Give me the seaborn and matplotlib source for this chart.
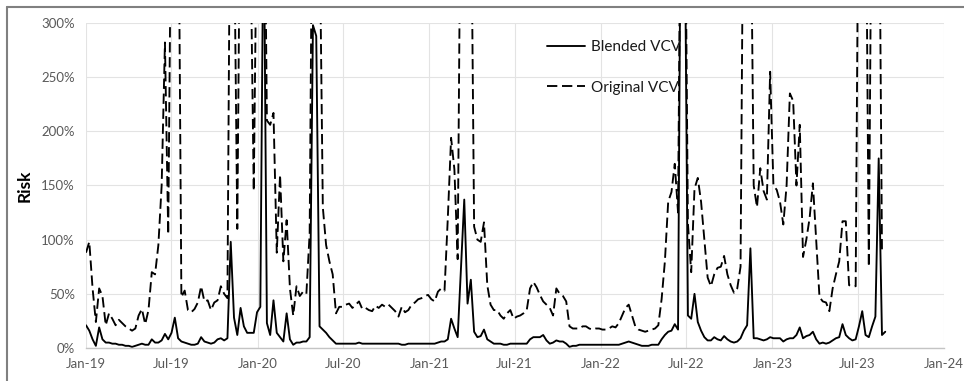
import pandas as pd
import matplotlib
matplotlib.use('Agg')
import matplotlib.pyplot as plt
import matplotlib.dates as mdates
from matplotlib.ticker import PercentFormatter, MultipleLocator
from matplotlib.lines import Line2D
import seaborn as sns

# ---------------- data (weekly, % risk) ----------------
start_date = '2019-01-01'
series_names = ['Blended VCV', 'Original VCV']
y_label = 'Risk'

blended = [
    21, 16, 8, 2, 19, 8, 5, 5, 4, 4,
    3, 3, 2, 2, 1, 2, 3, 4, 3, 3,
    8, 5, 5, 7, 13, 8, 14, 28, 9, 6,
    5, 4, 3, 3, 4, 10, 6, 5, 4, 5,
    8, 9, 7, 9, 98, 28, 12, 37, 20, 14,
    14, 14, 33, 38, 420, 23, 12, 44, 14, 10,
    6, 32, 8, 3, 5, 5, 6, 6, 10, 298,
    288, 20, 17, 14, 10, 7, 4, 4, 4, 4,
    4, 4, 4, 5, 4, 4, 4, 4, 4, 4,
    4, 4, 4, 4, 4, 4, 3, 3, 4, 4,
    4, 4, 4, 4, 4, 4, 4, 5, 6, 6,
    8, 27, 18, 10, 74, 137, 41, 63, 15, 10,
    11, 17, 8, 6, 4, 4, 4, 3, 3, 4,
    4, 4, 4, 4, 4, 8, 10, 10, 10, 12,
    7, 4, 5, 7, 6, 6, 4, 1, 2, 2,
    3, 3, 3, 3, 3, 3, 3, 3, 3, 3,
    3, 3, 3, 4, 5, 6, 5, 4, 3, 2,
    2, 2, 3, 3, 3, 8, 12, 15, 16, 22,
    17, 520, 420, 30, 27, 50, 24, 16, 10, 7,
    7, 10, 8, 7, 11, 8, 6, 5, 6, 9,
    16, 21, 92, 9, 9, 8, 7, 8, 10, 9,
    9, 9, 6, 8, 9, 9, 12, 19, 9, 11,
    12, 15, 8, 4, 5, 4, 5, 7, 9, 10,
    22, 12, 9, 7, 8, 20, 34, 12, 10, 20,
    29, 175, 12, 15,
]

original = [
    88, 98, 55, 24, 55, 48, 21, 32, 27, 21,
    26, 23, 20, 18, 16, 18, 30, 36, 22, 35,
    70, 68, 95, 150, 282, 105, 460, 520, 480, 47,
    53, 35, 33, 36, 42, 57, 43, 44, 35, 42,
    44, 57, 50, 46, 520, 400, 110, 480, 520, 500,
    380, 145, 420, 500, 520, 210, 206, 217, 88, 160,
    80, 118, 55, 30, 57, 48, 52, 50, 106, 520,
    520, 400, 130, 95, 80, 68, 32, 38, 38, 40,
    41, 37, 40, 43, 36, 37, 35, 34, 39, 37,
    40, 38, 40, 37, 34, 29, 38, 33, 35, 40,
    42, 45, 46, 48, 49, 45, 43, 52, 55, 53,
    120, 194, 165, 82, 480, 520, 500, 450, 112, 100,
    98, 116, 58, 40, 35, 35, 30, 27, 32, 35,
    27, 29, 30, 32, 35, 55, 61, 56, 49, 43,
    40, 37, 30, 55, 50, 48, 43, 20, 18, 18,
    18, 20, 20, 18, 17, 18, 18, 17, 17, 18,
    20, 19, 23, 30, 37, 40, 30, 20, 17, 16,
    15, 16, 17, 18, 21, 45, 80, 135, 144, 170,
    125, 520, 480, 115, 70, 147, 157, 135, 100, 65,
    57, 68, 74, 75, 85, 68, 58, 51, 55, 75,
    500, 520, 450, 150, 130, 166, 145, 137, 255, 150,
    146, 135, 114, 150, 235, 228, 150, 206, 84, 100,
    120, 152, 100, 47, 43, 42, 34, 55, 68, 80,
    117, 117, 58, 57, 57, 500, 520, 480, 75, 500,
    520, 500, 90, 89,
]

# ---------------- build frame ----------------
dates = pd.date_range(start_date, periods=len(blended), freq='7D')
df = pd.DataFrame({
    'date': list(dates) * 2,
    'value': blended + original,
    'series': [series_names[0]] * len(blended) + [series_names[1]] * len(original),
})

sns.set_theme(style='white')
plt.rcParams['font.family'] = ['Lato', 'DejaVu Sans']

W, H = 964, 381
fig = plt.figure(figsize=(W / 100, H / 100), dpi=100)
ax = fig.add_axes([86 / W, 1 - 348 / H, 858 / W, 325 / H])

dash_pat = (5.5, 2.5)
sns.lineplot(data=df, x='date', y='value', style='series',
             dashes={series_names[0]: '', series_names[1]: dash_pat},
             color='black', linewidth=1.35, ax=ax, estimator=None,
             sort=False, legend=False)

ax.set_xlim(pd.Timestamp('2019-01-01'), pd.Timestamp('2024-01-01'))
ax.set_ylim(0, 300)
ax.xaxis.set_major_locator(mdates.MonthLocator(bymonth=[1, 7]))
ax.xaxis.set_major_formatter(mdates.DateFormatter('%b-%y'))
ax.yaxis.set_major_locator(MultipleLocator(50))
ax.yaxis.set_major_formatter(PercentFormatter(100, decimals=0))

ax.grid(True, color='#e3e3e3', linewidth=0.8)
ax.set_axisbelow(True)
for s in ['top', 'right', 'left']:
    ax.spines[s].set_visible(False)
ax.spines['bottom'].set_color('#c4c4c4')
ax.spines['bottom'].set_linewidth(1.0)

ax.tick_params(axis='both', length=0, labelsize=9.5, colors='#595959')
ax.tick_params(axis='x', pad=7)
ax.tick_params(axis='y', pad=8)

ax.set_xlabel('')
ax.set_ylabel(y_label, fontsize=12.5, fontweight='bold', color='black')
ax.yaxis.set_label_coords(-0.062, 0.5)

handles = [Line2D([], [], color='black', lw=1.35),
           Line2D([], [], color='black', lw=1.35, dashes=dash_pat)]
leg = ax.legend(handles, series_names, loc='upper left',
                bbox_to_anchor=((547 - 86) / 858, 1 - (40 - 23) / 325),
                frameon=False, fontsize=11, handlelength=2.5,
                handletextpad=0.35, labelspacing=1.75, borderpad=0,
                borderaxespad=0)
for t in leg.get_texts():
    t.set_color('#1a1a1a')

# figure border (top and left edges visible)
fig.add_artist(Line2D([7 / W, 1], [1 - 7 / H, 1 - 7 / H], transform=fig.transFigure,
                      color='#808080', lw=1.5))
fig.add_artist(Line2D([7 / W, 7 / W], [0, 1 - 7 / H], transform=fig.transFigure,
                      color='#808080', lw=1.5))

fig.savefig('out.png', dpi=100, facecolor='white')
